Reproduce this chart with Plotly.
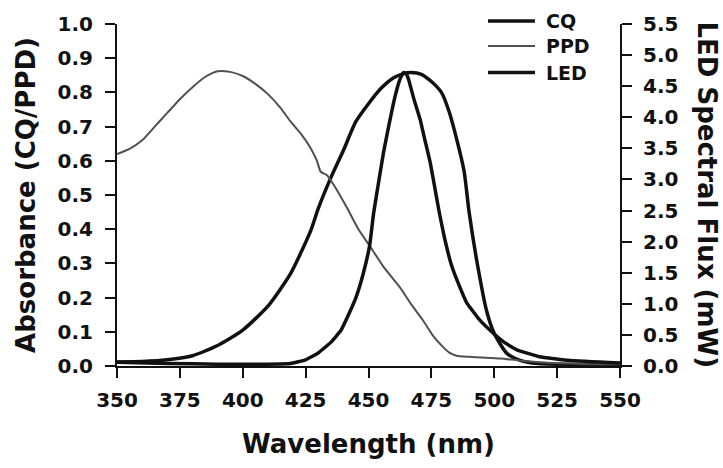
import plotly.graph_objects as go

# ---- data ----
wl_cq = [350, 360, 370, 380, 390, 400, 410, 419, 427, 430, 435, 440, 445, 450, 455, 460,
         464, 467, 471, 475, 479, 482, 485, 488, 490, 493, 497, 500, 505, 510, 515, 525, 550]
cq = [0.012, 0.013, 0.018, 0.03, 0.06, 0.105, 0.175, 0.27, 0.395, 0.46, 0.55, 0.63, 0.715,
      0.767, 0.812, 0.843, 0.855, 0.858, 0.853, 0.832, 0.80, 0.745, 0.665, 0.57, 0.45, 0.31,
      0.16, 0.095, 0.037, 0.017, 0.009, 0.005, 0.003]

wl_ppd = [350, 355, 360, 365, 370, 375, 380, 385, 390, 395, 400, 405, 410, 415, 419, 423, 427,
          429.5, 431, 433.5, 437, 441.5, 446, 450.6, 456, 462.5, 467, 471.7, 476, 479.6, 482,
          485, 490, 495, 502.5, 510, 520, 535, 550]
ppd = [0.62, 0.635, 0.66, 0.70, 0.74, 0.78, 0.815, 0.845, 0.862, 0.86, 0.848, 0.825, 0.795,
       0.755, 0.715, 0.68, 0.637, 0.60, 0.568, 0.558, 0.52, 0.462, 0.40, 0.35, 0.29, 0.23,
       0.18, 0.133, 0.085, 0.056, 0.04, 0.03, 0.027, 0.025, 0.022, 0.016, 0.01, 0.006, 0.005]

wl_led = [350, 370, 390, 410, 419, 425, 430, 435, 439, 442, 445, 448, 450.5, 452, 454, 456, 458,
          460, 462, 463, 464, 465, 466, 468, 470.5, 472.5, 474.5, 476, 478, 480, 483, 486, 489,
          494, 499, 504, 509, 518, 530, 550]
led = [0.06, 0.04, 0.03, 0.03, 0.04, 0.1, 0.21, 0.38, 0.57, 0.82, 1.1, 1.5, 1.95, 2.45, 2.95,
       3.44, 3.85, 4.24, 4.55, 4.66, 4.72, 4.7, 4.6, 4.3, 3.97, 3.62, 3.28, 2.95, 2.5, 2.1, 1.62,
       1.3, 1.02, 0.75, 0.55, 0.38, 0.26, 0.15, 0.09, 0.05]

x_ticks = [350, 375, 400, 425, 450, 475, 500, 525, 550]
legend_names = ["CQ", "PPD", "LED"]

FONT = "DejaVu Sans"
INK = "#111111"
GREY = "#505050"
series_style = {
    "CQ": dict(color=INK, width=3.5),
    "PPD": dict(color=GREY, width=2),
    "LED": dict(color=INK, width=3.5),
}

fig = go.Figure()
fig.add_trace(go.Scatter(x=wl_cq, y=cq, name="CQ", mode="lines", showlegend=False,
                         line=dict(**series_style["CQ"], shape="spline", smoothing=0.6)))
fig.add_trace(go.Scatter(x=wl_ppd, y=ppd, name="PPD", mode="lines", showlegend=False,
                         line=dict(**series_style["PPD"], shape="spline", smoothing=0.6)))
fig.add_trace(go.Scatter(x=wl_led, y=led, name="LED", mode="lines", yaxis="y2", showlegend=False,
                         line=dict(**series_style["LED"], shape="spline", smoothing=0.3)))

axis_common = dict(showline=True, linecolor=INK, linewidth=2, ticks="outside",
                   ticklen=10, tickwidth=2, tickcolor=INK, showgrid=False, zeroline=False,
                   tickfont=dict(family=FONT, size=20, color=INK, weight=700))

title_font = dict(family=FONT, size=26, color=INK, weight=700)

# legend drawn in paper coordinates (top-right, above plot)
leg_rows = [1.009, 0.936, 0.858]
shapes = []
annotations = []
for name, yy in zip(legend_names, leg_rows):
    shapes.append(dict(type="line", xref="paper", yref="paper", x0=0.7376, x1=0.831,
                       y0=yy, y1=yy, line=series_style[name]))
    annotations.append(dict(text=name, xref="paper", yref="paper", x=0.849, y=yy,
                            xanchor="left", yanchor="middle", showarrow=False,
                            font=dict(family=FONT, size=19, color=INK, weight=700)))

annotations.append(dict(text="LED Spectral Flux (mW)", textangle=90, xref="paper", yref="paper",
                        x=1.172, y=0.5, xanchor="center", yanchor="middle", showarrow=False,
                        font=title_font))

fig.update_layout(
    width=723, height=468,
    margin=dict(l=117, r=103, t=21, b=102),
    paper_bgcolor="white", plot_bgcolor="white",
    showlegend=False,
    xaxis=dict(range=[350, 550], tickvals=x_ticks, ticktext=[str(v) for v in x_ticks],
               ticklabelstandoff=5,
               title=dict(text="Wavelength (nm)", standoff=24, font=title_font),
               **axis_common),
    yaxis=dict(range=[0, 1.0], dtick=0.1, tickformat=".1f", ticklabelstandoff=8,
               title=dict(text="Absorbance (CQ/PPD)", standoff=14, font=title_font),
               **axis_common),
    yaxis2=dict(range=[0, 5.5], dtick=0.5, tickformat=".1f", overlaying="y", side="right",
                ticklabelstandoff=7, **axis_common),
    shapes=shapes,
    annotations=annotations,
)

fig.write_html("out.html")
